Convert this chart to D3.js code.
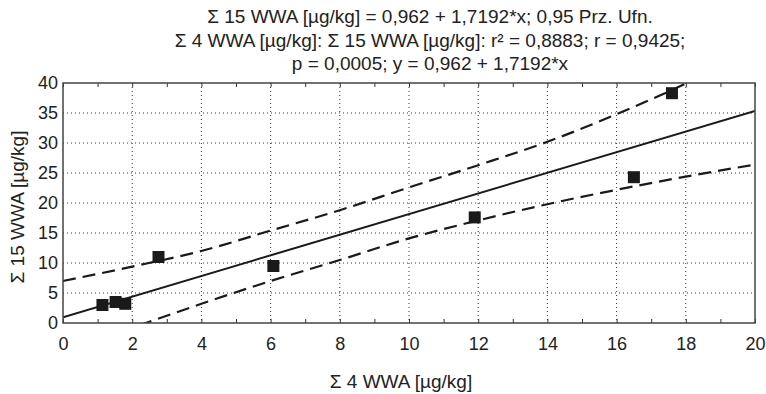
<!DOCTYPE html>
<html>
<head>
<meta charset="utf-8">
<script src="https://cdn.jsdelivr.net/npm/d3@7"></script>
<style>
  body { margin: 0; background: #fff; }
  text { font-family: "Liberation Sans", Arial, sans-serif; fill: #222; }
</style>
</head>
<body>
<div id="chart"></div>
<script>
// observed points: Σ 4 WWA vs Σ 15 WWA
const sum4 = [1.14, 1.52, 1.8, 2.76, 6.08, 11.9, 16.5, 17.6];
const sum15 = [3.0, 3.5, 3.2, 11.0, 9.5, 17.6, 24.3, 38.3];

// fitted line y = 0,962 + 1,7192*x, read at the axis ends
const fitX = [0, 20];
const fitY = [0.962, 35.35];

// 0,95 confidence band
const upperX = [0, 2, 4, 6, 8, 10, 12, 14, 16, 18, 18.5];
const upperY = [7.0, 9.4, 12.0, 15.4, 18.8, 22.6, 26.3, 30.2, 34.8, 39.9, 41.3];
const lowerX = [2.2, 4, 6, 8, 10, 12, 14, 16, 18, 20];
const lowerY = [-0.4, 3.2, 7.0, 10.5, 14.1, 17.1, 19.8, 22.2, 24.4, 26.4];

const xTicks = [0, 2, 4, 6, 8, 10, 12, 14, 16, 18, 20];
const yTicks = [0, 5, 10, 15, 20, 25, 30, 35, 40];

const titleLines = [
    "Σ 15 WWA [µg/kg] = 0,962 + 1,7192*x; 0,95 Prz. Ufn.",
    "Σ 4 WWA [µg/kg]: Σ 15 WWA [µg/kg]: r² = 0,8883; r = 0,9425;",
    "p = 0,0005; y = 0,962 + 1,7192*x"
];
const xTitle = "Σ 4 WWA [µg/kg]";
const yTitle = "Σ 15 WWA [µg/kg]";

const width = 766, height = 394;
const margin = { top: 83, right: 11, bottom: 71, left: 63 };
const w = width - margin.left - margin.right;
const h = height - margin.top - margin.bottom;

const svg = d3.select('#chart').append('svg')
    .attr('width', width)
    .attr('height', height);

const x = d3.scaleLinear().domain([0, 20]).range([0, w]);
const y = d3.scaleLinear().domain([0, 40]).range([h, 0]);

// title
svg.append('g')
    .selectAll('text')
    .data(titleLines)
    .enter().append('text')
    .attr('x', 430)
    .attr('y', (d, i) => 23 + i * 23.5)
    .attr('text-anchor', 'middle')
    .style('font-size', '19px')
    .text(d => d);

const chart = svg.append('g')
    .attr('transform', `translate(${margin.left}, ${margin.top})`);

svg.append('defs').append('clipPath').attr('id', 'plot')
    .append('rect').attr('width', w).attr('height', h);

// dotted grid
chart.append('g')
    .selectAll('line')
    .data(xTicks.slice(1, -1))
    .enter().append('line')
    .attr('x1', d => x(d)).attr('x2', d => x(d))
    .attr('y1', 0).attr('y2', h)
    .attr('stroke', '#333').attr('stroke-width', 1).attr('stroke-dasharray', '1,3');
chart.append('g')
    .selectAll('line')
    .data(yTicks.slice(1, -1))
    .enter().append('line')
    .attr('y1', d => y(d)).attr('y2', d => y(d))
    .attr('x1', 0).attr('x2', w)
    .attr('stroke', '#333').attr('stroke-width', 1).attr('stroke-dasharray', '1,3');

// axes: inward minor ticks at every unit, top and bottom
const unitTicks = d3.range(0, 21);
const xAxis = chart.append('g')
    .attr('class', 'axis axis-x')
    .attr('transform', `translate(0, ${h})`)
    .call(d3.axisBottom(x).tickValues(xTicks).tickSize(0).tickPadding(14).tickFormat(d3.format('d')));
const xTop = chart.append('g')
    .call(d3.axisTop(x).tickValues(unitTicks).tickSize(-4).tickFormat(''));
const xBot = chart.append('g')
    .attr('transform', `translate(0, ${h})`)
    .call(d3.axisBottom(x).tickValues(unitTicks).tickSize(-4).tickFormat(''));
const yAxis = chart.append('g')
    .attr('class', 'axis axis-y')
    .call(d3.axisLeft(y).tickValues(yTicks).tickSize(0).tickPadding(5));

[xAxis, xTop, xBot, yAxis].forEach(a => {
    a.select('.domain').remove();
    a.selectAll('line').attr('stroke', '#333').attr('stroke-width', 1);
    a.selectAll('text').style('font-size', '18px').style('font-family', '"Liberation Sans", Arial, sans-serif').attr('fill', '#222');
});

// lines
const line = d3.line().x(d => x(d[0])).y(d => y(d[1])).curve(d3.curveMonotoneX);
const lines = chart.append('g').attr('clip-path', 'url(#plot)');

lines.append('path')
    .datum(d3.zip(upperX, upperY))
    .attr('d', line)
    .attr('fill', 'none').attr('stroke', '#1a1a1a').attr('stroke-width', 2.2)
    .attr('stroke-dasharray', '13,7');
lines.append('path')
    .datum(d3.zip(lowerX, lowerY))
    .attr('d', line)
    .attr('fill', 'none').attr('stroke', '#1a1a1a').attr('stroke-width', 2.2)
    .attr('stroke-dasharray', '13,7');
lines.append('path')
    .datum(d3.zip(fitX, fitY))
    .attr('d', line)
    .attr('fill', 'none').attr('stroke', '#1a1a1a').attr('stroke-width', 2);

// frame
chart.append('rect')
    .attr('width', w).attr('height', h)
    .attr('fill', 'none').attr('stroke', '#444').attr('stroke-width', 1.5);

// points
const sq = 12;
chart.append('g')
    .selectAll('.pt')
    .data(d3.zip(sum4, sum15))
    .enter().append('rect')
    .attr('class', 'pt')
    .attr('x', d => x(d[0]) - sq / 2)
    .attr('y', d => y(d[1]) - sq / 2)
    .attr('width', sq).attr('height', sq)
    .attr('fill', '#1a1a1a');

// axis titles
svg.append('text')
    .attr('x', margin.left + w / 2 - 8)
    .attr('y', 388)
    .attr('text-anchor', 'middle')
    .style('font-size', '19px')
    .text(xTitle);
svg.append('text')
    .attr('transform', `translate(24, ${margin.top + h / 2 + 4}) rotate(-90)`)
    .attr('text-anchor', 'middle')
    .style('font-size', '19px')
    .text(yTitle);
</script>
</body>
</html>
